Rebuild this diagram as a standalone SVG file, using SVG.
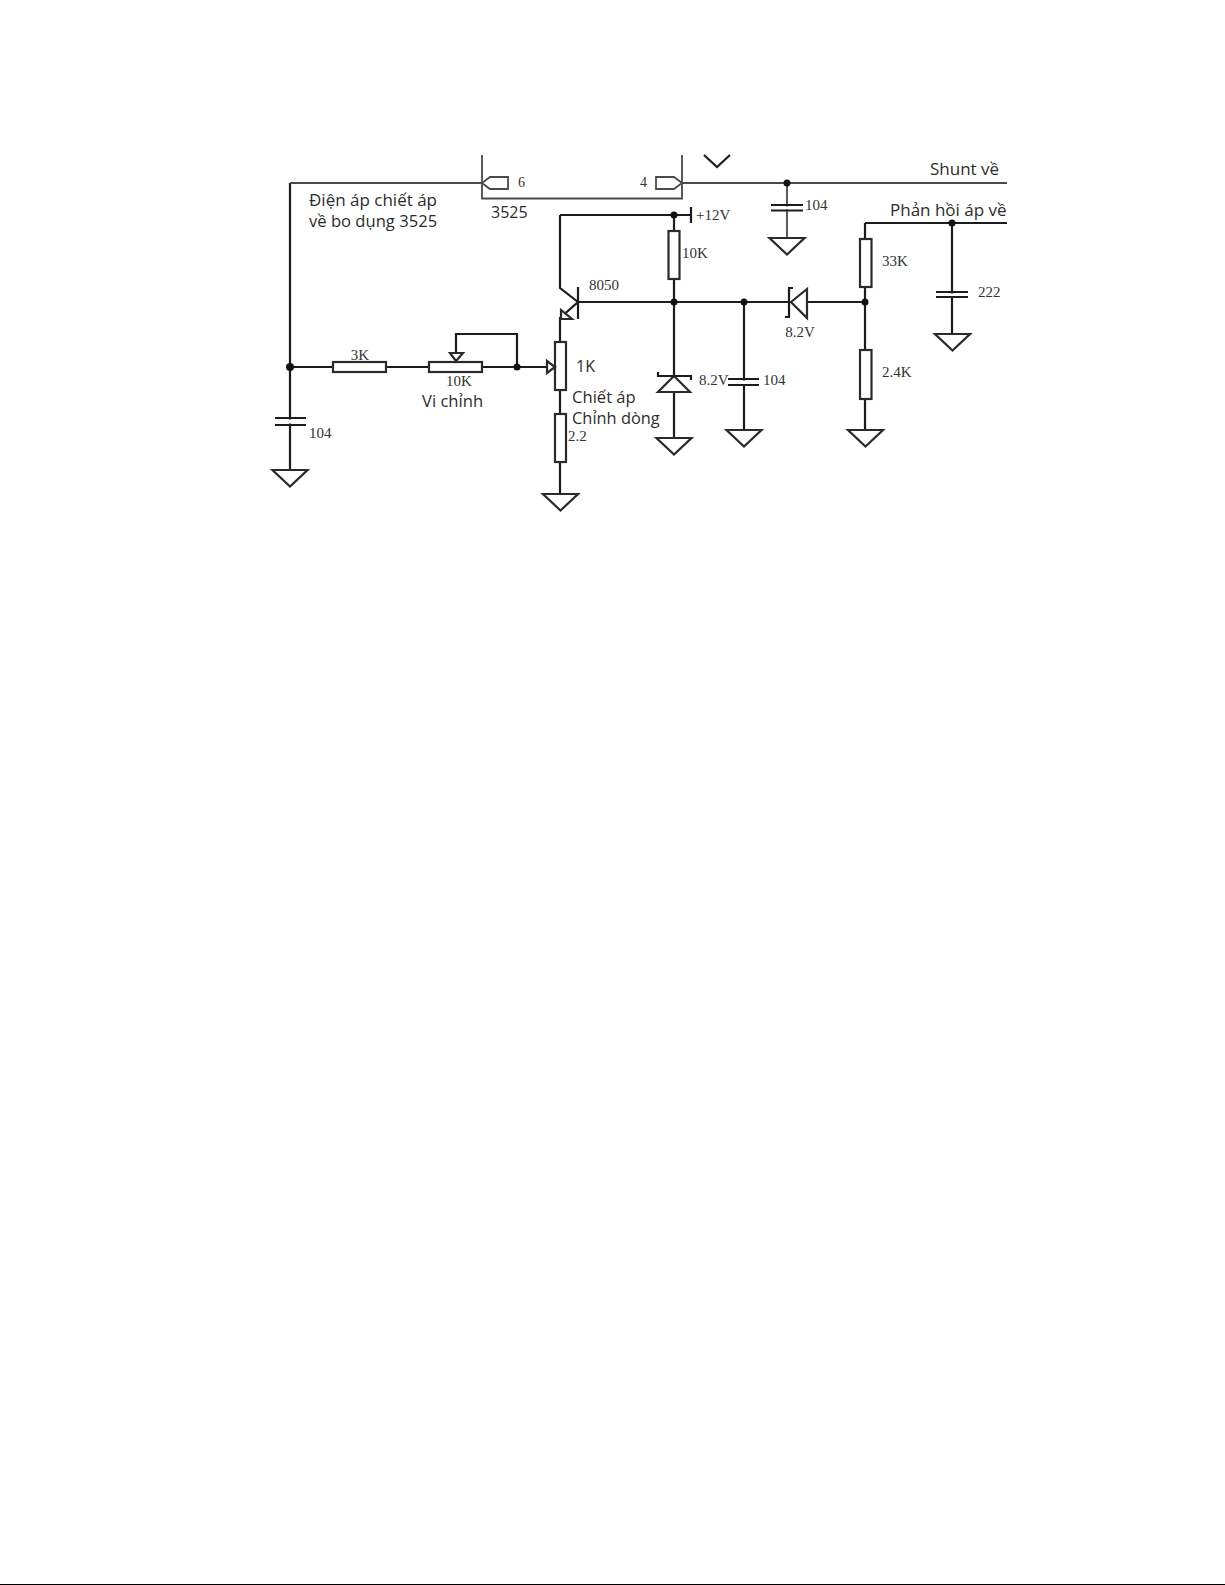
<svg xmlns="http://www.w3.org/2000/svg" width="1225" height="1585" viewBox="0 0 1225 1585">
<style>
.w{fill:none;stroke:#1c1c1c;stroke-width:2.2}
.g{fill:none;stroke:#4a4a4a;stroke-width:1.8}
.s{fill:#fff;stroke:#2a2a2a;stroke-width:2.2}
.d{fill:#111;stroke:none}
.t{font-family:"Liberation Serif",serif;font-size:15px;fill:#333}
.v{font-family:"Open Sans","Noto Sans",sans-serif;font-size:17px;fill:#2c2c2c}
</style>
<defs>
<polygon id="gnd" points="-17.500,0 17.500,0 0,16.500" fill="#fff" stroke="#2a2a2a" stroke-width="2.2"/>
</defs>
<rect width="1225" height="1585" fill="#fff"/>
<g id="connectors">
<path class="w" d="M290 183V470M290 367H333M386 367H429M482 367H548M517 367V334H456V353"/>
<path class="g" d="M290 183H482M682 183H1007"/>
<path class="w" d="M560 215H691M560 215V288L578 302L560 318V342M560 390V414M560 462V494"/>
<path class="w" d="M674 215V231M674 279V438M578 302H865M744 302V430M865 223H1007M865 223V239M865 287V350M865 399V430M952 223V334"/>
<path class="g" d="M787 183V238"/>
</g>
<g id="ic-3525">
<path class="g" d="M482 155V198.500H682V155"/>
<polygon class="g" fill="#fff" points="482,183 490,177 508,177 508,189 490,189"/>
<polygon class="g" fill="#fff" points="682,183 674,189 656,189 656,177 674,177"/>
<text class="t" x="518" y="187" style="font-size:14px">6</text>
<text class="t" x="640" y="187" style="font-size:14px">4</text>
<text class="v" x="491" y="218" style="font-size:16px">3525</text>
</g>
<g id="chevron"><path class="w" d="M704 155L717 167L730 155"/></g>
<g id="dots">
<circle class="d" cx="290" cy="367" r="4"/><circle class="d" cx="517" cy="367" r="3.500"/>
<circle class="d" cx="674" cy="215" r="3.500"/><circle class="d" cx="674" cy="302" r="3.500"/>
<circle class="d" cx="744" cy="302" r="3.500"/><circle class="d" cx="865" cy="302" r="3.500"/>
<circle class="d" cx="787" cy="183" r="3.500"/><circle class="d" cx="952" cy="223" r="3.500"/>
</g>
<g id="r-3k"><rect class="s" x="333" y="362" width="53" height="10"/><text class="t" x="360" y="360" text-anchor="middle">3K</text></g>
<g id="vr-10k"><rect class="s" x="429" y="362" width="53" height="10"/><polygon class="s" points="450,353 463,353 456,361"/><text class="t" x="459" y="386" text-anchor="middle">10K</text><text class="v" x="422" y="407" style="font-size:16.6px">Vi chỉnh</text></g>
<g id="pot-1k"><rect class="s" x="555" y="342" width="11" height="48"/><polygon class="s" points="547,361 547,373 555,367"/><text class="v" x="576" y="372" style="font-size:16px">1K</text><text class="v" x="572" y="403" style="font-size:16.6px">Chiết áp</text><text class="v" x="572" y="424" style="font-size:16.4px">Chỉnh dòng</text></g>
<g id="r-2-2"><rect class="s" x="555" y="414" width="11" height="48"/><text class="t" x="568" y="441">2.2</text></g>
<g id="q-8050"><path class="w" d="M578 287V319"/><polygon class="s" points="561,310 561,319 572,319"/><text class="t" x="589" y="290">8050</text></g>
<g id="r-10k"><rect class="s" x="668.500" y="231" width="11" height="48"/><text class="t" x="682" y="258">10K</text></g>
<g id="plus12"><path class="w" d="M691 207V223"/><text class="t" x="696" y="220">+12V</text></g>
<g id="c-left"><path class="w" d="M275 418H306M275 425H306"/><rect x="280" y="419.500" width="20" height="4" fill="#fff"/><text class="t" x="309" y="438">104</text></g>
<g id="c-top"><rect x="775" y="206.500" width="24" height="3" fill="#fff"/><path class="w" d="M771 205H803M771 210.500H803"/><text class="t" x="805" y="210">104</text></g>
<g id="c-mid"><rect x="735" y="380.500" width="18" height="3.500" fill="#fff"/><path class="w" d="M728 379H759M728 385H759"/><text class="t" x="763" y="385">104</text></g>
<g id="c-222"><rect x="942" y="293.500" width="20" height="3" fill="#fff"/><path class="w" d="M936 292H968M936 297H968"/><text class="t" x="978" y="297">222</text></g>
<g id="z-v"><polygon class="s" points="674,376 658,392 690,392"/><path class="w" d="M658 372V376H691V380"/><text class="t" x="699" y="385">8.2V</text></g>
<g id="z-h"><polygon class="s" points="791,302 807,289 807,318"/><path class="w" d="M793 288H789V317H785"/><text class="t" x="800" y="337" text-anchor="middle">8.2V</text></g>
<g id="r-33k"><rect class="s" x="860" y="239" width="11.500" height="48"/><text class="t" x="882" y="266">33K</text></g>
<g id="r-2-4k"><rect class="s" x="860" y="350" width="11.500" height="49"/><text class="t" x="882" y="377">2.4K</text></g>
<g id="grounds">
<use href="#gnd" x="290" y="470"/><use href="#gnd" x="560.500" y="494"/><use href="#gnd" x="674" y="438"/>
<use href="#gnd" x="744" y="430"/><use href="#gnd" x="865.500" y="430"/><use href="#gnd" x="787" y="238"/><use href="#gnd" x="952.500" y="334"/>
</g>
<g id="labels">
<text class="v" x="309" y="206">Điện áp chiết áp</text>
<text class="v" x="309" y="227" style="font-size:16.6px">về bo dụng 3525</text>
<text class="v" x="930" y="175">Shunt về</text>
<text class="v" x="890" y="216">Phản hồi áp về</text>
</g>
<rect id="bottom-edge" x="0" y="1584" width="1225" height="1" fill="#000"/>
</svg>
